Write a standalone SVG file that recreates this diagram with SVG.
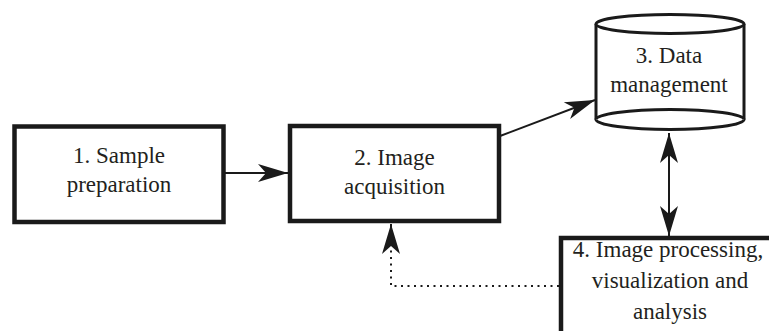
<svg xmlns="http://www.w3.org/2000/svg" width="769" height="331" viewBox="0 0 769 331">
<style>
.box{fill:#fff;stroke:#1a1a1a;stroke-width:4.5}
.cyl{fill:#fff;stroke:#1a1a1a;stroke-width:3}
.t{font-family:"Liberation Serif","Times New Roman",serif;font-size:23px;fill:#231f20;text-anchor:middle}
.c{fill:none;stroke:#1a1a1a;stroke-width:2}
.dot{fill:none;stroke:#1a1a1a;stroke-width:2;stroke-dasharray:2 4.5}
</style>
<defs>
<marker id="ah" markerUnits="userSpaceOnUse" markerWidth="34" markerHeight="22" viewBox="-33 -11 34 22" refX="0" refY="0" orient="auto">
<path d="M0,0 L-30,-9 L-22,0 L-30,9 Z" fill="#1a1a1a"/>
</marker>
<marker id="ahs" markerUnits="userSpaceOnUse" markerWidth="34" markerHeight="22" viewBox="-33 -11 34 22" refX="0" refY="0" orient="auto-start-reverse">
<path d="M0,0 L-30,-9 L-22,0 L-30,9 Z" fill="#1a1a1a"/>
</marker>
</defs>
<rect width="769" height="331" fill="#fff"/>
<g id="connectors">
<line class="c" x1="225" y1="173" x2="288" y2="173" marker-end="url(#ah)"/>
<line class="c" x1="500" y1="136" x2="595" y2="100" marker-end="url(#ah)"/>
<line class="c" x1="669" y1="133" x2="669" y2="236" marker-start="url(#ahs)" marker-end="url(#ah)"/>
<polyline class="dot" points="559,286 391,286 391,230"/>
<line class="c" x1="391" y1="240" x2="391" y2="224" stroke="none" marker-end="url(#ah)"/>
</g>
<g id="node1">
<rect class="box" x="14.5" y="126.5" width="209" height="95.5"/>
<text class="t" x="119" y="163">1. Sample</text>
<text class="t" x="119" y="192">preparation</text>
</g>
<g id="node2">
<rect class="box" x="290" y="126" width="209" height="95"/>
<text class="t" x="394.5" y="165">2. Image</text>
<text class="t" x="394.5" y="194">acquisition</text>
</g>
<g id="node3">
<path class="cyl" d="M596,24 L596,119.5 A74,10 0 0 0 744,119.5 L744,24"/>
<path class="cyl" d="M596,119.5 A74,10 0 0 1 744,119.5"/>
<ellipse class="cyl" cx="670" cy="24" rx="74" ry="9.5"/>
<text class="t" x="669" y="63">3. Data</text>
<text class="t" x="669" y="92">management</text>
</g>
<g id="node4">
<rect class="box" x="561" y="238" width="230" height="110"/>
<text class="t" x="668" y="257">4. Image processing,</text>
<text class="t" x="670" y="288">visualization and</text>
<text class="t" x="670" y="319">analysis</text>
</g>
</svg>
